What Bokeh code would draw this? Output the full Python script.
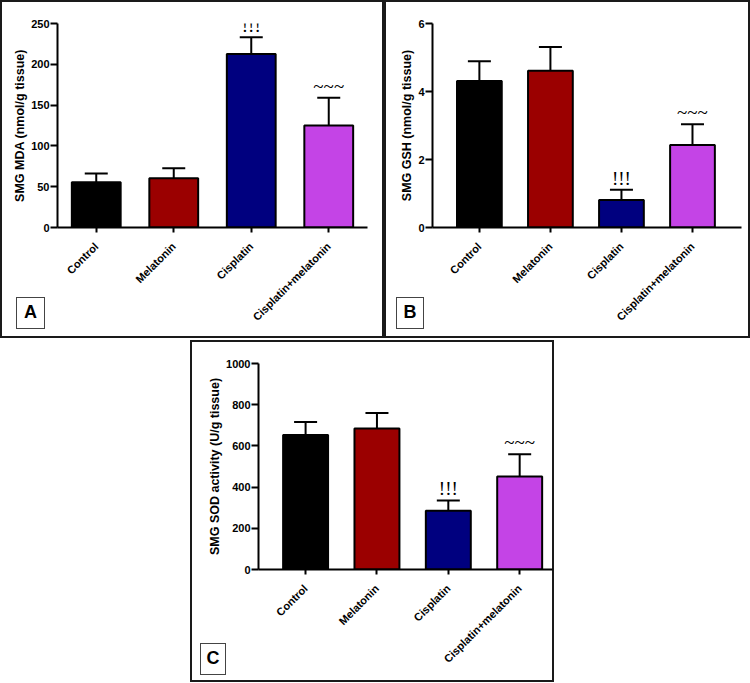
import math
from bokeh.plotting import figure
from bokeh.models import (ColumnDataSource, Whisker, TeeHead, FixedTicker, Range1d,
                          LabelSet, Spacer, Div)
from bokeh.layouts import column, row
from bokeh.embed import file_html
from bokeh.resources import INLINE

# ---------------- data ----------------
categories = ["Control", "Melatonin", "Cisplatin", "Cisplatin+melatonin"]
bar_colors = ["#000000", "#9b0000", "#00007f", "#c444e6"]
marks = ["", "", "!!!", "~~~"]

mda_mean = [55.6, 60.5, 212.6, 125.1]
mda_upper = [66.2, 72.7, 233.0, 158.9]
mda_ticks = [0, 50, 100, 150, 200, 250]

gsh_mean = [4.31, 4.61, 0.81, 2.43]
gsh_upper = [4.89, 5.31, 1.11, 3.04]
gsh_ticks = [0, 2, 4, 6]

sod_mean = [653, 684, 285, 452]
sod_upper = [716, 760, 335, 559]
sod_ticks = [0, 200, 400, 600, 800, 1000]

panel_letters = ["A", "B", "C"]

FONT = "Liberation Sans"


def panel(means, uppers, ticks, ylabel, width, height, x_start, x_end, borders):
    idx = list(range(len(categories)))
    src = ColumnDataSource(dict(x=idx, top=means, upper=uppers, color=bar_colors,
                                mark=marks))
    p = figure(width=width, height=height, output_backend="svg", toolbar_location=None,
               x_range=Range1d(x_start, x_end), y_range=Range1d(ticks[0], ticks[-1]),
               min_border_left=borders[0], min_border_right=borders[1],
               min_border_top=borders[2], min_border_bottom=borders[3],
               background_fill_color=None, border_fill_color=None,
               styles={"box-shadow": "inset 0 0 0 2px #1a1a1a",
                       "background-color": "white"})
    p.outline_line_color = None
    p.grid.visible = False
    p.vbar(x="x", top="top", bottom=0, width=0.63, source=src, fill_color="color",
           line_color="black", line_width=2)
    w = Whisker(base="x", lower="top", upper="upper", source=src, line_width=2,
                line_color="black",
                upper_head=TeeHead(size=23, line_width=2, line_color="black"),
                lower_head=None)
    p.add_layout(w)
    ls = LabelSet(x="x", y="upper", text="mark", source=src, text_align="center",
                  text_baseline="bottom", y_offset=1, text_font_size="19px",
                  text_font=FONT, text_color="black")
    p.add_layout(ls)

    for ax in (p.xaxis[0], p.yaxis[0]):
        ax.axis_line_width = 2
        ax.axis_line_color = "black"
        ax.major_tick_line_width = 2
        ax.major_tick_line_color = "black"
        ax.major_tick_in = 0
        ax.minor_tick_line_color = None
        ax.major_label_text_font = FONT
        ax.major_label_text_font_style = "bold"
        ax.major_label_text_font_size = "11px"
        ax.major_label_text_color = "black"
    p.xaxis.major_tick_out = 5
    p.yaxis.major_tick_out = 7
    p.xaxis.ticker = FixedTicker(ticks=idx)
    p.xaxis.major_label_overrides = {i: c for i, c in zip(idx, categories)}
    p.xaxis.major_label_orientation = math.pi / 4
    p.xaxis.major_label_standoff = 12
    p.yaxis.ticker = FixedTicker(ticks=ticks)
    p.yaxis.major_label_standoff = 1
    p.yaxis.axis_label = ylabel
    p.yaxis.axis_label_text_font = FONT
    p.yaxis.axis_label_text_font_style = "bold"
    p.yaxis.axis_label_text_font_size = "12.5px"
    p.yaxis.axis_label_text_color = "black"
    p.yaxis.axis_label_standoff = 1
    return p


def letter_box(letter, left, top, w, h):
    return Div(text=letter, width=w, height=h,
               styles={"position": "absolute", "left": f"{left}px", "top": f"{top}px",
                       "border": "1.5px solid #444444", "box-sizing": "border-box",
                       "background-color": "white", "font-family": FONT,
                       "font-weight": "bold", "font-size": "18px", "color": "black",
                       "text-align": "center", "line-height": f"{h - 3}px",
                       "z-index": "10"})


pa = panel(mda_mean, mda_upper, mda_ticks, "SMG MDA (nmol/g tissue)",
           384, 338, -0.5, 3.5, (57, 17, 23, 110))
pb = panel(gsh_mean, gsh_upper, gsh_ticks, "SMG GSH (nmol/g tissue)",
           366, 338, -0.66, 3.69, (48, 9, 23, 111))
pc = panel(sod_mean, sod_upper, sod_ticks, "SMG SOD activity (U/g tissue)",
           364, 342, -0.66, 3.46, (68, 2, 23, 113))

boxes = [letter_box(panel_letters[0], 11, 292, 29, 32),
         letter_box(panel_letters[1], 391, 292, 28, 32),
         letter_box(panel_letters[2], 195, 638, 26, 32)]

layout = column(row(pa, pb), row(Spacer(width=190, height=342), pc), *boxes, spacing=2)

open("out.html", "w").write(file_html(layout, INLINE))
